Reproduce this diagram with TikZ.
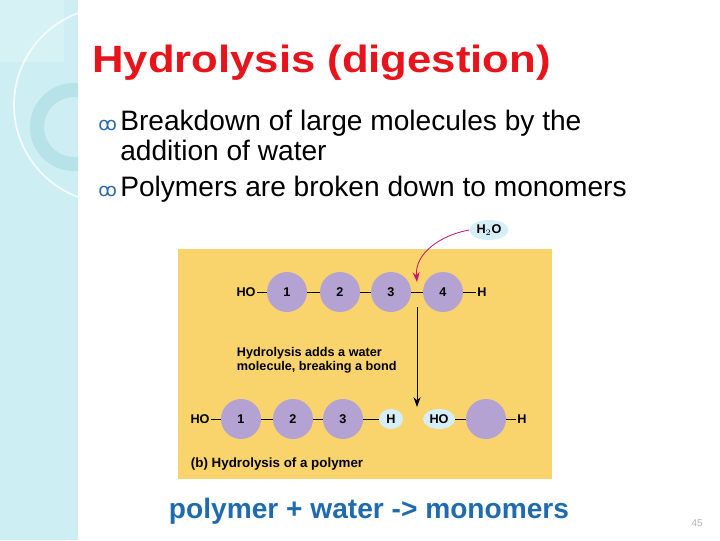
\documentclass[tikz,border=0pt]{standalone}
\usepackage{graphicx}
\usepackage{fontspec}
\setmainfont{Liberation Sans}
\newfontfamily\symfont{DejaVu Sans}
\usepackage{tikz}
\usetikzlibrary{arrows.meta, positioning, shapes.geometric}

\definecolor{stripcyan}{HTML}{CDEFF3}
\definecolor{ringcyan}{HTML}{B6E2E8}
\definecolor{titlered}{HTML}{E8141B}
\definecolor{bulletblue}{HTML}{2A6BA8}
\definecolor{panelgold}{HTML}{F9D36C}
\definecolor{monolilac}{HTML}{B4A3D2}
\definecolor{waterblue}{HTML}{D6EEF8}
\definecolor{arrowmagenta}{HTML}{C8186B}
\definecolor{captionblue}{HTML}{1F6BAE}

\begin{document}
\begin{tikzpicture}[
  x=0.025cm, y=-0.025cm,
  mono/.style={
    circle,
    fill=monolilac,
    minimum size=1cm,
    inner sep=0pt,
    font=\bfseries\fontsize{9}{10}\selectfont
  },
  water/.style={
    ellipse,
    fill=waterblue,
    inner sep=1pt,
    minimum height=0.5cm,
    font=\bfseries\fontsize{9}{10}\selectfont
  },
  endgroup/.style={inner sep=1pt, font=\bfseries\fontsize{9}{10}\selectfont},
  bond/.style={line width=0.6pt},
  bullet/.style={anchor=base west, inner sep=0pt, font=\fontsize{20}{24}\selectfont},
  bulletmark/.style={anchor=base east, inner sep=0pt, text=bulletblue, font=\symfont\fontsize{13}{14}\selectfont},
  arrow/.style={-{Stealth[length=7pt, width=5pt]}, line width=0.6pt}
]
\useasboundingbox (0,0) rectangle (720,540);

% Slide background
\fill[stripcyan] (0,0) rectangle (78,540);
\fill[white, opacity=0.2] (0,0) rectangle (64,62);
\begin{scope}
  \clip (0,0) rectangle (78,540);
  \draw[white, line width=1.2pt, opacity=0.8] (112,105) circle (98);
  \draw[ringcyan, line width=10pt] (74,127) circle (37);
\end{scope}

% Title and bullets
\node[anchor=base west, inner sep=0pt, text=titlered, font=\bfseries\fontsize{27}{30}\selectfont] (title) at (92,72) {\scalebox{1.15}[1]{Hydrolysis (digestion)}};
\node[bullet] (b1) at (120,130) {Breakdown of large molecules by the};
\node[bullet] (b1b) at (120,160) {addition of water};
\node[bullet] (b2) at (120,196) {Polymers are broken down to monomers};
\node[bulletmark] at ([xshift=-2pt]b1.base west) {ꝏ};
\node[bulletmark] at ([xshift=-2pt]b2.base west) {ꝏ};

% Panel
\fill[panelgold] (178,249) rectangle (552,479);

% Top row: intact polymer
\node[endgroup] (ho1) at (246,292) {HO};
\node[mono] (m1) at (287,292) {1};
\node[mono] (m2) at (340,292) {2};
\node[mono] (m3) at (391,292) {3};
\node[mono] (m4) at (443,292) {4};
\node[endgroup] (h1) at (482,292) {H};
\draw[bond] (ho1) -- (m1);
\draw[bond] (m1) -- (m2);
\draw[bond] (m2) -- (m3);
\draw[bond] (m3) -- (m4);
\draw[bond] (m4) -- (h1);
\coordinate (hit) at (417,282);
\coordinate (split) at (417,307);
\coordinate (land) at (417,407);

% Water comes in
\node[water, minimum width=0.85cm] (h2o) at (489,230) {H$_2$O};
\draw[arrow, arrowmagenta] (h2o.west) to[out=190, in=95] (hit);
\draw[arrow] (split) -- (land);
\node[anchor=north west, align=left, font=\bfseries\fontsize{9}{10.5}\selectfont] (note) at (232,342) {Hydrolysis adds a water\\molecule, breaking a bond};

% Bottom row: products
\node[endgroup] (ho2) at (200,419) {HO};
\node[mono] (n1) at (241,419) {1};
\node[mono] (n2) at (293,419) {2};
\node[mono] (n3) at (343,419) {3};
\node[water, minimum width=0.6cm] (hw) at (391,419) {H};
\node[water, minimum width=0.8cm] (how) at (439,419) {HO};
\node[mono] (n4) at (486,419) {};
\node[endgroup] (h2) at (522,419) {H};
\draw[bond] (ho2) -- (n1);
\draw[bond] (n1) -- (n2);
\draw[bond] (n2) -- (n3);
\draw[bond] (n3) -- (hw);
\draw[bond] (how) -- (n4);
\draw[bond] (n4) -- (h2);

\node[anchor=base west, font=\bfseries\fontsize{9.5}{11}\selectfont] (cap) at (186,467) {(b) Hydrolysis of a polymer};

% Summary line
\node[text=captionblue, font=\bfseries\fontsize{20}{24}\selectfont] (sum) at (369,511) {polymer + water -> monomers};
\node[text=gray!60, font=\fontsize{7}{8}\selectfont] (page) at (697,523) {45};
\end{tikzpicture}
\end{document}
